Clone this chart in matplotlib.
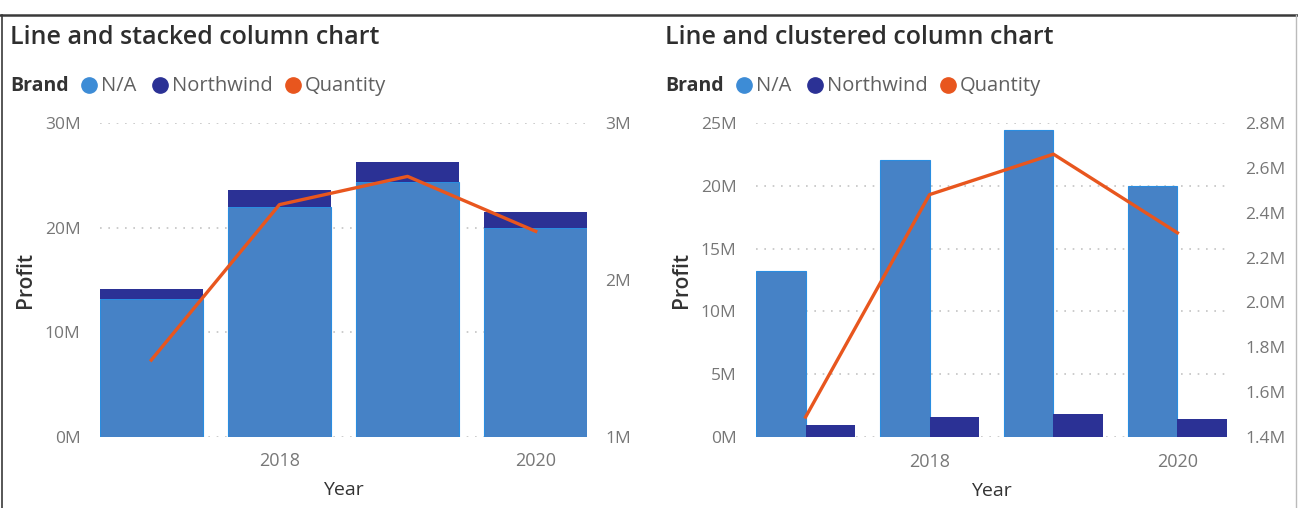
import matplotlib.pyplot as plt
import numpy as np
from matplotlib.lines import Line2D
from matplotlib.ticker import FuncFormatter

plt.rcParams['font.family'] = ['Open Sans', 'DejaVu Sans']

# Données (profit en millions, quantité en millions)
years = ["2017", "2018", "2019", "2020"]
tick_years = ["2018", "2020"]
profit_na = [13.2, 22.0, 24.4, 20.0]
profit_northwind = [0.95, 1.6, 1.85, 1.45]
quantity = [1.49, 2.48, 2.66, 2.31]

C_NA = "#4682C6"
C_NA_EDGE = "#2A8DE0"
C_NA_LEG = "#3D8CD6"
C_NW = "#2B3195"
C_QTY = "#E8561E"
C_TICK = "#777777"
C_DARK = "#333333"
C_GRID = "#C4C4C4"

W, H = 1298, 508


def fx(px):
    return px / W


def fy(py):
    return 1 - py / H


def style_axes(ax, ax2):
    for a in (ax, ax2):
        for s in a.spines.values():
            s.set_visible(False)
        a.tick_params(length=0, labelsize=12.5, labelcolor=C_TICK)
    ax.tick_params(axis='y', pad=14)
    ax2.tick_params(axis='y', pad=13)
    ax.tick_params(axis='x', pad=11, labelsize=13)
    ax.yaxis.grid(True, linestyle=(0, (1, 4)), color=C_GRID, linewidth=1.2)
    ax.set_axisbelow(True)
    ax.set_ylabel("Profit", fontsize=15, color=C_DARK, fontweight='semibold', labelpad=6)
    ax.set_xlabel("Year", fontsize=14, color=C_DARK, labelpad=8)
    xpos = np.arange(len(years))
    ax.set_xticks([xpos[years.index(y)] for y in tick_years])
    ax.set_xticklabels(tick_years)
    ax.set_xlim(-0.4, len(years) - 0.6)


def header(title, x0):
    fig.text(fx(x0), fy(37), title, fontsize=18, color="#2E2E2E", fontweight='semibold',
             va='center', ha='left')
    fig.text(fx(x0), fy(86), "Brand", fontsize=14, color=C_DARK, fontweight='bold',
             va='center', ha='left')
    items = [("N/A", C_NA_LEG, 79), ("Northwind", C_NW, 150), ("Quantity", C_QTY, 283)]
    for label, col, dx in items:
        fig.add_artist(Line2D([fx(x0 + dx)], [fy(85)], marker='o', markersize=11,
                              color=col, linestyle='none'))
        fig.text(fx(x0 + dx + 12), fy(86), label, fontsize=14.5, color="#606060",
                 va='center', ha='left')


fig = plt.figure(figsize=(W / 100, H / 100), dpi=100)

x = np.arange(len(years))

# Graphique 1 : colonnes empilées + ligne
ax1 = fig.add_axes([fx(100), fy(437), fx(487), 314 / H])
ax1b = ax1.twinx()
ax1.bar(x, profit_na, width=0.8, color=C_NA, edgecolor=C_NA_EDGE, linewidth=0.8)
ax1.bar(x, profit_northwind, width=0.8, bottom=profit_na, color=C_NW, linewidth=0)
ax1b.plot(x, quantity, color=C_QTY, linewidth=2.4)
ax1.set_ylim(0, 30)
ax1.set_yticks([0, 10, 20, 30])
ax1.yaxis.set_major_formatter(FuncFormatter(lambda v, p: f"{v:.0f}M"))
ax1b.set_ylim(1, 3)
ax1b.set_yticks([1, 2, 3])
ax1b.yaxis.set_major_formatter(FuncFormatter(lambda v, p: f"{v:.0f}M"))
style_axes(ax1, ax1b)
header("Line and stacked column chart", 10)

# Graphique 2 : colonnes groupées + ligne
ax2 = fig.add_axes([fx(756), fy(437.3), fx(471), 314.6 / H])
ax2b = ax2.twinx()
ax2.bar(x - 0.2, profit_na, width=0.4, color=C_NA, edgecolor=C_NA_EDGE, linewidth=0.8)
ax2.bar(x + 0.2, profit_northwind, width=0.4, color=C_NW, linewidth=0)
ax2b.plot(x, quantity, color=C_QTY, linewidth=2.4)
ax2.set_ylim(0, 25)
ax2.set_yticks([0, 5, 10, 15, 20, 25])
ax2.yaxis.set_major_formatter(FuncFormatter(lambda v, p: f"{v:.0f}M"))
ax2b.set_ylim(1.4, 2.8)
ax2b.set_yticks(np.round(np.arange(1.4, 2.81, 0.2), 1))
ax2b.yaxis.set_major_formatter(FuncFormatter(lambda v, p: f"{v:.1f}M"))
style_axes(ax2, ax2b)
header("Line and clustered column chart", 665)

# Cadre
fig.add_artist(Line2D([0, 1], [fy(15), fy(15)], color="#3A3A3A", linewidth=1.8))
fig.add_artist(Line2D([fx(2), fx(2)], [0, fy(15)], color="#3A3A3A", linewidth=1.2))
fig.add_artist(Line2D([fx(1296), fx(1296)], [0, fy(15)], color="#BBBBBB", linewidth=1.0))

fig.savefig("out.png", dpi=100)
